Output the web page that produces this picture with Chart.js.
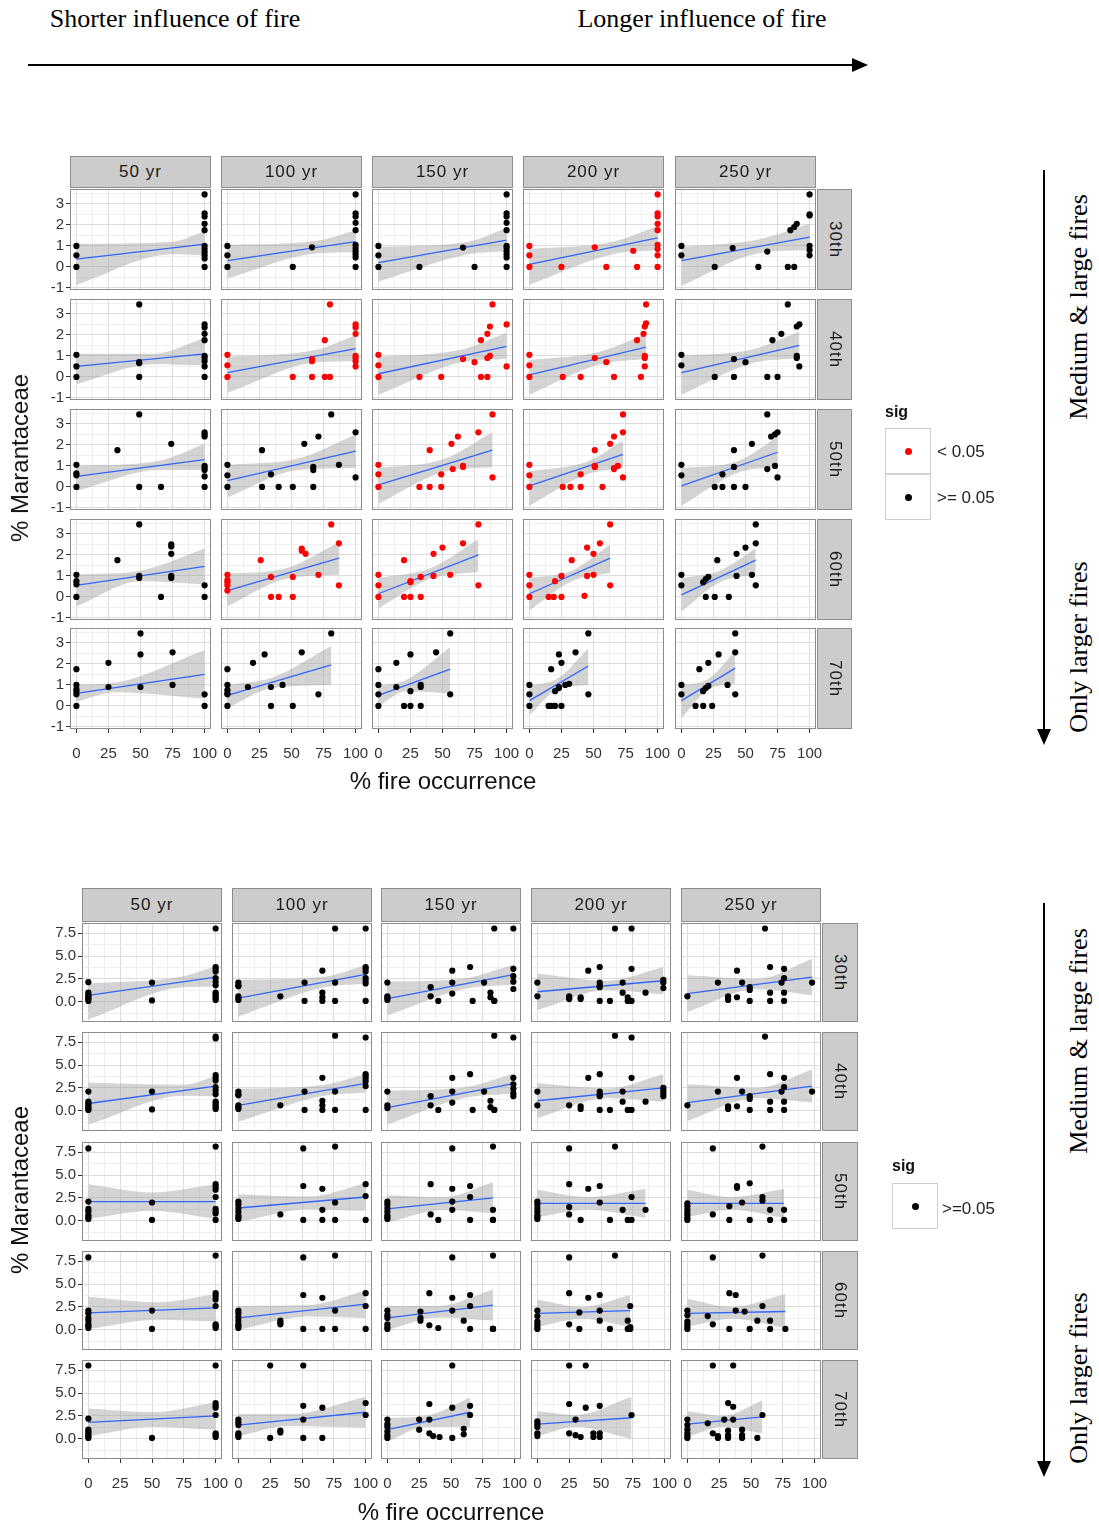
<!DOCTYPE html>
<html><head><meta charset="utf-8">
<script src="https://cdn.jsdelivr.net/npm/chart.js@4.4.1/dist/chart.umd.min.js"></script>
<style>
html,body{margin:0;padding:0;background:#fff}
body{width:1099px;height:1526px;position:relative;overflow:hidden;font-family:'Liberation Sans',Arial,sans-serif;color:#000}
canvas{position:absolute}
.strip{position:absolute;box-sizing:border-box;background:#CCCCCC;border:1px solid #8C8C8C;display:flex;align-items:center;justify-content:center;font-size:17px;letter-spacing:1px;color:#1A1A1A}
.vstrip{writing-mode:vertical-rl}
.txt{position:absolute;white-space:nowrap;line-height:1}
.serif{font-family:'Liberation Serif','Times New Roman',serif;font-size:26px}
.title{font-size:24px;color:#111}
.leg{font-size:17px;color:#222}
.legt{font-size:16px;font-weight:bold;color:#111}
.key{position:absolute;box-sizing:border-box;width:46px;height:46px;border:1px solid #D0D0D0;background:#fff}
.dot{position:absolute;left:50%;top:50%;width:7px;height:7px;margin:-3.5px 0 0 -3.5px;border-radius:50%}
</style></head><body>
<svg width="1099" height="1526" style="position:absolute;left:0;top:0">
  <line x1="28" y1="65" x2="856" y2="65" stroke="#000" stroke-width="2"/>
  <polygon points="852,58 868,65 852,72" fill="#000"/>
  <line x1="1044" y1="170" x2="1044" y2="733" stroke="#000" stroke-width="2"/>
  <polygon points="1037,729 1044,745 1051,729" fill="#000"/>
  <line x1="1044" y1="903" x2="1044" y2="1465" stroke="#000" stroke-width="2"/>
  <polygon points="1037,1461 1044,1477 1051,1461" fill="#000"/>
</svg>
<script>
// ---------------- DATA ----------------
const colLabels = ['50 yr', '100 yr', '150 yr', '200 yr', '250 yr'];
const rowLabels = ['30th', '40th', '50th', '60th', '70th'];
const xMajor = [0, 25, 50, 75, 100];
const xMinor = [12.5, 37.5, 62.5, 87.5];
const yMajorTop = [-1, 0, 1, 2, 3];
const yMinorTop = [-0.5, 0.5, 1.5, 2.5, 3.5];
const yMajorBottom = [0, 2.5, 5, 7.5];
const yMinorBottom = [-1.25, 1.25, 3.75, 6.25];
const sigLevelsTop = ['< 0.05', '>= 0.05'];
const sigLevelsBottom = ['>=0.05'];

// significance per panel (rows 30th..70th, cols 50..250 yr): 'lt' = < 0.05, 'ge' = >= 0.05
const topSig = [
  ['ge','ge','ge','lt','ge'],
  ['ge','lt','lt','lt','ge'],
  ['ge','ge','lt','lt','ge'],
  ['ge','lt','lt','lt','ge'],
  ['ge','ge','ge','ge','ge']
];
const bottomSig = [
  ['ge','ge','ge','ge','ge'],
  ['ge','ge','ge','ge','ge'],
  ['ge','ge','ge','ge','ge'],
  ['ge','ge','ge','ge','ge'],
  ['ge','ge','ge','ge','ge']
];

// points: groups of [% fire occurrence, [% Marantaceae values...]]
const topPoints = [
  [ // 30th
    [[0,[1,0.55,0]],[100,[3.45,2.55,2.4,2.05,1.75,1,0.85,0.7,0.55,0.4,0]]],
    [[0,[1,0.55,0]],[51,[0]],[66,[0.93]],[100,[3.45,2.55,2.4,2.1,1.75,1.05,0.9,0.75,0.6,0.45,0]]],
    [[0,[1,0.55,0]],[32,[0]],[66,[0.92]],[75,[0]],[100,[3.45,2.55,2.4,2.1,1.75,1,0.9,0.75,0.6,0.45,0]]],
    [[0,[1,0.55,0]],[25,[0]],[51,[0.93]],[60,[0]],[81,[0.77]],[84,[0]],[100,[3.45,2.55,2.4,2.05,1.75,1.05,0.85,0.55,0]]],
    [[0,[1,0.55]],[26,[0]],[40,[0.9]],[60,[0]],[67,[0.73]],[83,[0]],[85,[1.75]],[88,[0,1.9]],[90,[2.05]],[100,[3.45,2.5,2.45,1,0.8,0.55]]]
  ],
  [ // 40th
    [[0,[1.05,0.5,0]],[49,[3.45,0.7,0.65,0]],[100,[2.5,2.35,2.05,1.75,1,0.9,0.75,0.5,0]]],
    [[0,[1.05,0.55,0]],[51,[0]],[66,[0.85,0.75,0]],[76,[1.75,0]],[80,[3.45,0]],[100,[2.5,2.35,2.05,1,0.9,0.75,0.5]]],
    [[0,[1.05,0.55,0]],[32,[0]],[49,[0]],[66,[0.85]],[75,[0.7]],[80,[1.75,0]],[85,[2.05,0.9,0]],[87,[2.4,1]],[89,[3.45]],[100,[2.5,0.5]]],
    [[0,[1.05,0.55,0]],[26,[0]],[40,[0]],[51,[0.9]],[60,[0.7]],[66,[0]],[84,[1.75]],[87,[0]],[89,[2.05]],[90,[2.4,1,0.9,0.5]],[91,[3.45,2.55]]],
    [[0,[1.05,0.55]],[26,[0]],[41,[0.85,0]],[50,[0.7]],[67,[0]],[71,[1.75]],[75,[0]],[78,[2.05]],[83,[3.45]],[90,[2.4,1,0.9]],[92,[2.5,0.5]]]
  ],
  [ // 50th
    [[0,[1.05,0.65,0.55,0]],[32,[1.75]],[49,[3.45,0]],[66,[0]],[74,[2.05]],[100,[2.6,2.5,2.4,1,0.9,0.8,0.5,0]]],
    [[0,[1.05,0.55,0]],[27,[1.75,0]],[34,[0.6]],[40,[0]],[51,[0]],[60,[2.05]],[67,[0.95,0.8,0]],[71,[2.4]],[81,[3.45]],[87,[1.05]],[100,[2.6,0.45]]],
    [[0,[1.05,0.6,0]],[32,[0]],[40,[1.75,0]],[49,[0,0.6]],[57,[2.05]],[58,[0.85]],[62,[2.4]],[66,[1,0.95]],[78,[2.6]],[89,[3.45,0.45]]],
    [[0,[1.05,0.55,0]],[26,[0]],[32,[0]],[40,[0,0.6]],[51,[1.75,1,0.95]],[57,[0]],[63,[2.05]],[66,[2.4,0.9,0.85]],[69,[1]],[73,[3.45,2.6,0.45]]],
    [[0,[1.05,0.55]],[26,[0]],[32,[0.6,0]],[41,[0,0.95,1.75]],[50,[0]],[55,[2.05]],[67,[3.45,0.85]],[70,[2.4]],[73,[1,2.5]],[75,[2.6,0.45]]]
  ],
  [ // 60th
    [[0,[1.05,0.75,0.6,0]],[32,[1.75]],[49,[3.45,1,0.9]],[66,[0]],[74,[2.5,2.4,2.05,1,0.9]],[100,[0.55,0]]],
    [[0,[1.05,0.8,0.7,0.55,0.3]],[26,[1.75]],[34,[0.95,0]],[40,[0]],[51,[0.95,0]],[58,[2.3,2.2]],[61,[2.05]],[71,[1.05]],[81,[3.45]],[87,[2.55,0.55]]],
    [[0,[1.05,0.55,0]],[20,[1.75,0]],[25,[0.75,0.7,0]],[33,[0.95,0]],[43,[2.05,1]],[50,[2.35]],[56,[1.05]],[66,[2.55]],[78,[3.45,0.55]]],
    [[0,[1.05,0.55,0]],[15,[0]],[19,[0]],[20,[0.75]],[25,[1,0]],[33,[1.75]],[43,[0.05]],[45,[2.35,1]],[50,[2.05,1.05]],[55,[2.55]],[63,[3.45,0.55]]],
    [[0,[1.05,0.55]],[17,[0.7]],[19,[0.85,0]],[21,[0.95]],[26,[0]],[28,[1.75]],[37,[0]],[43,[2.05,1]],[50,[2.35]],[55,[1.05]],[58,[3.45,2.55,0.55]]]
  ],
  [ // 70th
    [[0,[1.75,1,0.8,0.7,0.55,0]],[25,[2.05,0.9]],[50,[3.45,2.45,0.9]],[75,[2.55,1]],[100,[0.55,0]]],
    [[0,[1.75,1,0.75,0.6,0.55,0]],[16,[0.9]],[20,[2.05]],[29,[2.45]],[34,[0.9,0]],[43,[1]],[51,[0]],[58,[2.55]],[71,[0.55]],[81,[3.45]]],
    [[0,[1.75,1,0.55,0]],[14,[2.05,0.9]],[20,[0]],[25,[2.45,0.7,0]],[33,[1,0.9,0]],[45,[2.55]],[56,[3.45,0.55]]],
    [[0,[1,0.55,0]],[15,[0]],[17,[1.75,0]],[20,[0.7,0]],[23,[2.45,0.9,0.85]],[25,[2.05,0]],[28,[1]],[31,[1.05]],[36,[2.55]],[46,[3.45,0.55]]],
    [[0,[1,0.55]],[11,[0]],[14,[1.75]],[17,[0.7,0]],[19,[0.85]],[21,[2.05,0.95]],[24,[0]],[29,[2.45]],[36,[1]],[42,[3.45,2.55,0.55]]]
  ]
];
// fitted line: [x start, y start, x end, y end]
const topFit = [
  [[0,0.37,100,1.08],[0,0.3,100,1.2],[0,0.2,100,1.28],[0,0.12,100,1.38],[0,0.3,100,1.42]],
  [[0,0.5,100,1.1],[0,0.2,100,1.35],[0,0.15,100,1.45],[0,0.1,91,1.42],[0,0.2,92,1.5]],
  [[0,0.5,100,1.3],[0,0.3,100,1.7],[0,0.1,89,1.75],[0,0.05,73,1.55],[0,0.05,75,1.65]],
  [[0,0.55,100,1.45],[0,0.3,87,1.85],[0,0.15,78,2.0],[0,0.15,63,1.85],[0,0.1,58,1.75]],
  [[0,0.6,100,1.5],[0,0.5,81,1.95],[0,0.5,56,1.75],[0,0.25,46,1.9],[0,0.25,42,1.8]]
];
// confidence band: [x at narrowest, lower start, upper start, lower mid, upper mid, lower end, upper end]
const topBand = [
  [[75,-0.85,1.1,0.6,1.2,0.55,1.7],[70,-0.55,1.05,0.65,1.25,0.7,1.75],[70,-0.7,0.95,0.6,1.2,0.75,1.85],[65,-0.85,0.85,0.6,1.2,0.8,1.95],[60,-0.9,0.95,0.65,1.3,0.8,2.05]],
  [[60,-0.35,1.1,0.6,1.1,0.55,1.85],[70,-0.75,0.95,0.7,1.3,0.75,2.0],[65,-0.85,0.95,0.7,1.3,0.85,2.1],[55,-0.85,0.8,0.6,1.2,0.85,2.05],[55,-0.85,1.0,0.65,1.3,0.9,2.15]],
  [[65,-0.2,1.0,0.8,1.25,0.8,2.05],[55,-0.5,1.05,0.8,1.35,0.9,2.5],[50,-0.8,0.9,0.7,1.3,0.95,2.6],[45,-0.9,0.75,0.6,1.2,0.9,2.2],[45,-0.9,0.9,0.7,1.25,0.95,2.4]],
  [[50,-0.45,1.07,0.75,1.25,0.6,2.3],[45,-0.45,1.1,0.85,1.35,1.05,2.6],[40,-0.55,0.9,0.85,1.35,1.2,2.75],[33,-0.65,0.9,0.75,1.25,1.15,2.5],[30,-0.7,0.9,0.7,1.25,1.05,2.3]],
  [[30,0.2,1.0,0.65,1.1,0.35,2.65],[35,-0.1,1.0,0.85,1.35,1.0,2.85],[22,0.0,0.95,0.7,1.25,0.6,2.8],[22,-0.45,0.95,0.8,1.3,1.0,2.75],[20,-0.6,1.0,0.75,1.25,1.05,2.6]]
];

const bottomPoints = [
  [ // 30th
    [[0,[2.15,1,0.75,0.6,0.45,0.3,0.1]],[50,[2.1,0.15]],[100,[8,3.8,3.6,3.3,2.6,2.2,1.8,1,0.8,0.6,0.4,0.2]]],
    [[0,[2.1,1.8,1.7,0.6,0.4,0.2]],[33,[0.6]],[52,[2.1,0.1]],[66,[3.4,1,0.5,0.1]],[76,[8,2.1,0.1]],[100,[8,3.8,3.6,3.3,2.6,2.3,2,0.1]]],
    [[0,[2.1,0.6,0.4,0.2]],[34,[1.6,0.6]],[40,[0.1]],[51,[3.4,2.1,0.9]],[65,[3.8]],[67,[0.1]],[76,[2.1]],[81,[1,0.5]],[84,[8,0.1,0.1]],[99,[8,3.6,2.8,2.2,1.4]]],
    [[0,[2.1,0.6]],[25,[0.6,0.4,0.3]],[34,[0.5,0.3]],[40,[3.4]],[49,[3.8,2.1,1.8,1.6,0.1]],[57,[0.1]],[61,[8]],[67,[2.1,1]],[71,[0.5,0.1]],[74,[8,3.6,0.1]],[85,[1]],[99,[2.4,2.1,1.5]]],
    [[0,[0.6]],[24,[2.1]],[32,[0.6,0.4,0.2]],[39,[3.4,0.5]],[43,[2.1]],[49,[1.6,1.3,0.1]],[61,[8]],[65,[3.8,1,0.1]],[74,[2.1]],[76,[3.6,2.6,1,0.1]],[98,[2.1]]]
  ],
  [ // 40th
    [[0,[2.1,1,0.8,0.6,0.4,0.2,0.1]],[50,[2.1,0.15]],[100,[8.1,7.9,3.9,3.6,3.3,2.6,2.2,1.8,1,0.8,0.6,0.4,0.2]]],
    [[0,[2.1,1.8,1.7,0.6,0.4,0.2]],[33,[0.6]],[52,[2.1,0.1]],[66,[3.6,1.1,0.6,0.1]],[76,[8.2,2.1,0.1]],[100,[8,4,3.8,3.5,3.2,2.7,0.1]]],
    [[0,[2.1,0.6,0.3]],[34,[1.6,0.6]],[40,[0.1]],[51,[3.6,2.1,0.9]],[65,[4]],[67,[0.1]],[76,[2.1]],[81,[1.1,0.4]],[84,[8.2,0.1,0.1]],[99,[8,3.6,2.9,2.4,1.9,1.6]]],
    [[0,[2.1,0.6]],[25,[0.6]],[34,[0.5,0.2]],[40,[3.6]],[49,[4,2.1,1.8,1.6,0.1]],[57,[0.1]],[61,[8.2]],[67,[2.1,1]],[71,[0.1]],[74,[8,3.6,0.1]],[85,[1]],[99,[2.5,2.2,1.9,1.6]]],
    [[0,[0.6]],[24,[2.1]],[32,[0.4,0.2,0.5]],[39,[3.6,0.5]],[43,[2.1]],[49,[1.6,1.3,0.1]],[61,[8.1]],[65,[4,1,0.1]],[74,[2.1]],[76,[3.6,2.6,1,0.1]],[98,[2.1]]]
  ],
  [ // 50th
    [[0,[7.9,2.1,1.3,1,0.6,0.4,0.2]],[50,[2,0.1]],[100,[8.1,4,3.7,3.4,2.6,1.3,1,0.8,0.1]]],
    [[0,[2.1,1.8,1.4,1,0.6,0.4,0.2]],[33,[0.7]],[51,[7.9,3.8,0.1]],[66,[3.5,1.2,0.1]],[76,[8.1,2,0.1]],[100,[4,2.7,0.1]]],
    [[0,[2.1,1.8,1.4,1,0.6,0.4,0.2]],[34,[4,0.7]],[40,[0.1]],[51,[7.9,3.5,2.1,1.2]],[65,[3.8,2.6,0.1]],[83,[8.1,1.2,0.1,0.1]]],
    [[0,[2.1,1.8,1.4,1,0.6,0.4,0.2]],[25,[7.9,4,1.5,0.7]],[34,[0.1]],[40,[3.5]],[49,[3.8,2]],[57,[0.1]],[61,[8.1]],[67,[1.2]],[71,[0.1]],[74,[2.6,0.1]],[85,[1.2]]],
    [[0,[1.9,1.6,1.2,0.9,0.6,0.3,0.1]],[20,[7.9,0.7]],[33,[1.6,0.1]],[39,[3.8,3.6]],[43,[2]],[49,[4.1,0.1]],[59,[8.1,2.6,2.2]],[65,[1.2,0.1]],[76,[1.2,0.1]]]
  ],
  [ // 60th
    [[0,[7.9,2.1,1.8,1.3,1,0.6,0.4,0.2]],[50,[2.1,0.1]],[100,[8.1,4,3.7,3.3,2.6,0.6,0.4,0.2]]],
    [[0,[2.1,1.8,1.4,1,0.6,0.4,0.2]],[33,[1,0.8,0.6]],[51,[7.9,3.8,0.1]],[66,[3.5,0.1]],[76,[8.1,2.1,0.1]],[100,[4,2.6,0.1]]],
    [[0,[2.1,1.6,1.3,0.6,0.3,0.1]],[26,[2,1.3,1]],[33,[4,0.5]],[40,[0.2]],[51,[7.9,3.5,2.1]],[60,[1]],[65,[3.8,2.6,0.1]],[83,[8.1,0.1,0.1,0.1]]],
    [[0,[2.1,1.5,0.9,0.6,0.3,0.1]],[25,[7.9,4,0.6]],[33,[1.9,0.1]],[40,[3.5]],[49,[3.8,2.1,1]],[57,[0.1]],[61,[8.1]],[71,[1,0.1]],[73,[2.6,0.3,0.1]]],
    [[0,[2.1,1.6,0.9,0.6,0.3,0.1]],[16,[1.5]],[20,[7.9,0.6]],[33,[4,0.1]],[38,[3.8,2.1]],[45,[2]],[49,[0.1]],[55,[1]],[59,[8.1,2.6]],[65,[1,0.1]],[77,[0.1]]]
  ],
  [ // 70th
    [[0,[8,2.2,1,0.8,0.6,0.4,0.2,0.1]],[50,[0.1]],[100,[8,3.9,3.6,3.4,2.6,0.6,0.4,0.2]]],
    [[0,[2.1,1.8,1.5,0.6,0.4,0.2]],[25,[8,0.1]],[33,[0.9,0.7]],[51,[8,3.6,2.1,0.1]],[66,[3.4,0.1]],[100,[3.9,2.6]]],
    [[0,[2.1,1.6,1.3,0.8,0.4,0.1]],[25,[2.1,1]],[33,[3.8,2.1,0.6]],[36,[0.3]],[41,[0.2]],[51,[8,3.4,0.1]],[60,[1.1,0.5]],[65,[3.6,2.6]]],
    [[0,[1.9,1.6,1.3,0.6,0.3]],[25,[8,3.8,0.6]],[30,[2.1,0.4]],[34,[0.2]],[38,[8,3.4]],[44,[0.6,0.2]],[49,[3.6,0.6,0.2]],[74,[2.6]]],
    [[0,[2.1,1.5,1,0.6,0.3,0.1]],[16,[1.7]],[20,[8,0.6]],[24,[0.3,0.1]],[29,[2.1]],[32,[3.9,0.9,0.4,0.1]],[36,[8,3.5,2.1]],[43,[1,0.4,0.1]],[55,[0.1]],[59,[2.6]]]
  ]
];
const bottomFit = [
  [[0,0.7,100,2.7],[0,0.4,100,3.0],[0,0.35,100,3.0],[0,1.1,99,2.3],[0,0.9,98,2.7]],
  [[0,0.8,100,2.7],[0,0.6,100,3.0],[0,0.35,100,3.0],[0,1.1,99,2.5],[0,0.9,98,2.7]],
  [[0,2.1,100,2.1],[0,1.4,100,2.6],[0,1.3,83,2.5],[0,1.9,85,1.9],[0,1.9,76,1.9]],
  [[0,1.85,100,2.4],[0,1.3,100,2.8],[0,1.3,83,2.7],[0,1.8,73,2.1],[0,1.8,77,2.0]],
  [[0,1.8,100,2.5],[0,1.5,100,2.9],[0,1.0,65,2.9],[0,1.6,74,2.3],[0,1.6,59,2.4]]
];
const bottomBand = [
  [[75,-1.9,2.0,1.6,2.8,1.65,3.9],[65,-1.6,2.4,1.5,2.7,2.0,4.0],[60,-1.5,2.2,1.4,2.55,1.9,4.1],[55,-0.9,3.1,1.3,2.3,0.8,3.8],[55,-1.1,2.9,1.4,2.5,0.7,4.7]],
  [[75,-1.5,3.1,1.65,2.85,1.6,3.8],[65,-1.2,2.4,1.6,2.8,2.0,4.0],[60,-1.5,2.2,1.4,2.55,1.9,4.1],[55,-0.8,3.0,1.4,2.45,1.0,4.0],[55,-1.1,2.9,1.4,2.5,0.9,4.5]],
  [[50,0.2,4.0,1.1,3.1,0.2,4.0],[55,-0.1,2.9,1.25,2.65,1.1,4.1],[45,-0.2,2.8,1.2,2.6,0.8,4.2],[40,0.4,3.4,1.2,2.6,0.3,3.5],[35,0.4,3.4,1.2,2.6,0.3,3.5]],
  [[55,0.1,3.6,1.1,3.0,0.9,3.9],[55,0.0,2.6,1.45,2.7,1.3,4.3],[40,0.0,2.6,1.35,2.6,1.0,4.4],[35,0.3,3.3,1.2,2.5,0.3,3.8],[35,0.3,3.4,1.2,2.5,0.2,3.9]],
  [[50,0.3,3.3,1.3,2.9,1.0,4.0],[40,0.3,2.7,1.4,2.7,1.2,4.6],[30,-0.3,2.3,1.3,2.5,1.3,4.5],[30,0.3,3.0,1.3,2.6,0.0,4.6],[28,0.2,3.0,1.3,2.5,0.6,4.2]]
];

// ---------------- LAYOUT ----------------
const GL = 44, GR = 32, GT = 14, GB = 38;
const SIG_COLOR = { lt: '#FF0000', ge: '#000000' };
Chart.defaults.font.family = "'Liberation Sans', Arial, sans-serif";

const grids = [
  { points: topPoints, sig: topSig, fit: topFit, band: topBand,
    yMin: -1.1, yMax: 3.71, yMajor: yMajorTop, yMinor: yMinorTop, yFmt: v => String(v),
    cols: [70, 221, 372, 523, 675], rows: [189, 299, 409, 519, 628], pw: 141, ph: 101,
    stripTop: 156, stripX: 817, stripW: 35 },
  { points: bottomPoints, sig: bottomSig, fit: bottomFit, band: bottomBand,
    yMin: -2.2, yMax: 8.6, yMajor: yMajorBottom, yMinor: yMinorBottom, yFmt: v => v.toFixed(1),
    cols: [82, 232, 381, 531, 681], rows: [923, 1032, 1142, 1251, 1360], pw: 140, ph: 99,
    stripTop: 888, stripX: 822, stripW: 36 }
];

const panelPlugin = {
  id: 'panelFrame',
  beforeDraw(chart) {
    const a = chart.chartArea, ctx = chart.ctx;
    ctx.save(); ctx.fillStyle = '#FFFFFF';
    ctx.fillRect(a.left, a.top, a.right - a.left, a.bottom - a.top); ctx.restore();
  },
  afterDraw(chart) {
    const a = chart.chartArea, ctx = chart.ctx;
    ctx.save(); ctx.strokeStyle = '#8C8C8C'; ctx.lineWidth = 1;
    ctx.strokeRect(a.left + 0.5, a.top + 0.5, a.right - a.left - 1, a.bottom - a.top - 1); ctx.restore();
  }
};

function addDiv(cls, text, style) {
  const d = document.createElement('div');
  d.className = cls; if (text !== null) d.textContent = text;
  Object.assign(d.style, style);
  document.body.appendChild(d);
  return d;
}
function addText(text, cx, cy, cls, rot) {
  return addDiv('txt ' + cls, text, { left: cx + 'px', top: cy + 'px',
    transform: 'translate(-50%,-50%)' + (rot ? ' rotate(-90deg)' : '') });
}

function makePanel(g, r, c) {
  const cv = document.createElement('canvas');
  const W = GL + g.pw + GR, H = GT + g.ph + GB;
  cv.width = W; cv.height = H;
  cv.style.left = (g.cols[c] - GL) + 'px';
  cv.style.top = (g.rows[r] - GT) + 'px';
  document.body.appendChild(cv);
  const showY = c === 0, showX = r === 4;
  const pts = [];
  g.points[r][c].forEach(([x, ys]) => ys.forEach(y => pts.push({ x: x, y: y })));
  const f = g.fit[r][c], b = g.band[r][c];
  const upper = [{ x: f[0], y: b[2] }, { x: b[0], y: b[4] }, { x: f[2], y: b[6] }];
  const lower = [{ x: f[0], y: b[1] }, { x: b[0], y: b[3] }, { x: f[2], y: b[5] }];
  const xTicks = xMajor.concat(xMinor).sort((a, b) => a - b);
  const yTicks = g.yMajor.concat(g.yMinor).sort((a, b) => a - b);
  const gridColor = (maj) => (ctx) => maj.includes(ctx.tick.value) ? '#DCDCDC' : '#EFEFEF';
  new Chart(cv, {
    type: 'scatter',
    data: { datasets: [
      { type: 'line', data: upper, borderWidth: 0, borderColor: 'rgba(0,0,0,0)', pointRadius: 0, fill: false, cubicInterpolationMode: 'monotone', order: 3 },
      { type: 'line', data: lower, borderWidth: 0, borderColor: 'rgba(0,0,0,0)', pointRadius: 0, fill: '-1', backgroundColor: 'rgba(153,153,153,0.42)', cubicInterpolationMode: 'monotone', order: 2 },
      { type: 'line', data: [{ x: f[0], y: f[1] }, { x: f[2], y: f[3] }], borderColor: '#3366FF', borderWidth: 1.3, pointRadius: 0, fill: false, order: 1 },
      { type: 'scatter', data: pts, backgroundColor: SIG_COLOR[g.sig[r][c]], borderWidth: 0, pointRadius: 3.1, order: 0 }
    ] },
    options: {
      responsive: false, maintainAspectRatio: false, animation: false, devicePixelRatio: 1, events: [],
      layout: { padding: { left: 0, right: GR, top: GT, bottom: 0 } },
      plugins: { legend: { display: false }, tooltip: { enabled: false } },
      scales: {
        x: { type: 'linear', min: -5, max: 105,
          afterBuildTicks: s => { s.ticks = xTicks.map(v => ({ value: v })); },
          afterFit: s => { s.height = GB; },
          ticks: { display: showX, autoSkip: false, maxRotation: 0, padding: 12, color: '#333333', font: { size: 15 },
            callback: v => xMajor.includes(v) ? String(v) : '' },
          grid: { color: gridColor(xMajor), lineWidth: 1, drawTicks: true, tickLength: 4,
            tickColor: ctx => (showX && xMajor.includes(ctx.tick.value)) ? '#333333' : 'rgba(0,0,0,0)' },
          border: { display: false } },
        y: { type: 'linear', min: g.yMin, max: g.yMax,
          afterBuildTicks: s => { s.ticks = yTicks.map(v => ({ value: v })); },
          afterFit: s => { s.width = GL; },
          ticks: { display: showY, autoSkip: false, padding: 2, color: '#333333', font: { size: 15 },
            callback: v => g.yMajor.includes(v) ? g.yFmt(v) : '' },
          grid: { color: gridColor(g.yMajor), lineWidth: 1, drawTicks: true, tickLength: 4,
            tickColor: ctx => (showY && g.yMajor.includes(ctx.tick.value)) ? '#333333' : 'rgba(0,0,0,0)' },
          border: { display: false } }
      }
    },
    plugins: [panelPlugin]
  });
}

grids.forEach(g => {
  for (let r = 0; r < 5; r++) for (let c = 0; c < 5; c++) makePanel(g, r, c);
  colLabels.forEach((lab, c) => addDiv('strip', lab, { left: g.cols[c] + 'px', top: g.stripTop + 'px',
    width: g.pw + 'px', height: (g.rows[0] - g.stripTop - 1) + 'px' }));
  rowLabels.forEach((lab, r) => addDiv('strip vstrip', lab, { left: g.stripX + 'px', top: g.rows[r] + 'px',
    width: g.stripW + 'px', height: g.ph + 'px' }));
});

// axis titles
addText('% Marantaceae', 20, 458, 'title', true);
addText('% fire occurrence', 443, 781, 'title', false);
addText('% Marantaceae', 20, 1190, 'title', true);
addText('% fire occurrence', 451, 1512, 'title', false);

// annotations
addText('Shorter influence of fire', 175, 19, 'serif', false);
addText('Longer influence of fire', 702, 19, 'serif', false);
addText('Medium & large fires', 1079, 307, 'serif', true);
addText('Only larger fires', 1079, 647, 'serif', true);
addText('Medium & large fires', 1079, 1041, 'serif', true);
addText('Only larger fires', 1079, 1378, 'serif', true);

// legends
addDiv('txt legt', 'sig', { left: '885px', top: '404px' });
sigLevelsTop.forEach((lab, i) => {
  const k = addDiv('key', null, { left: '885px', top: (428 + i * 46) + 'px' });
  const d = document.createElement('div'); d.className = 'dot';
  d.style.background = i === 0 ? SIG_COLOR.lt : SIG_COLOR.ge; k.appendChild(d);
  addDiv('txt leg', lab, { left: '937px', top: (443 + i * 46) + 'px' });
});
addDiv('txt legt', 'sig', { left: '892px', top: '1158px' });
sigLevelsBottom.forEach((lab, i) => {
  const k = addDiv('key', null, { left: '892px', top: (1183 + i * 46) + 'px' });
  const d = document.createElement('div'); d.className = 'dot';
  d.style.background = SIG_COLOR.ge; k.appendChild(d);
  addDiv('txt leg', lab, { left: '942px', top: (1200 + i * 46) + 'px' });
});
</script>
</body></html>
